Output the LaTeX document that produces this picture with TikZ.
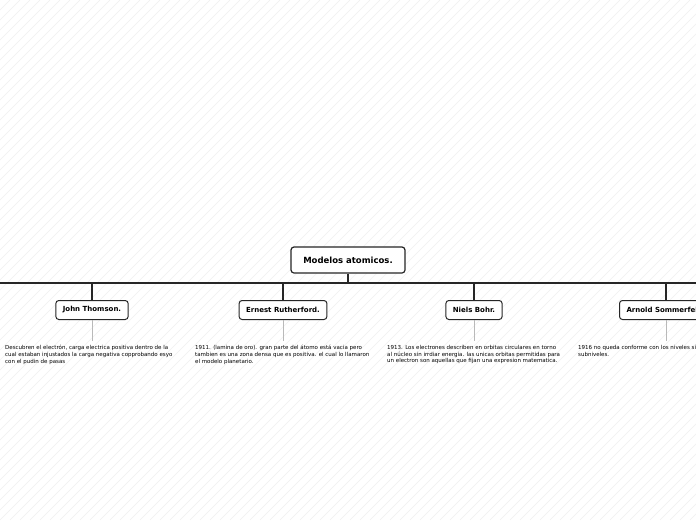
\documentclass[tikz,border=0pt]{standalone}
\usepackage{fontspec}
\setmainfont{DejaVu Sans}
\usetikzlibrary{positioning}

\tikzset{
  topic/.style={draw=black!85, line width=1.2pt, rounded corners=3pt, fill=white,
    font=\bfseries\fontsize{8.5}{10}\selectfont, minimum width=114pt, minimum height=26pt},
  subtopic/.style={draw=black!85, line width=1pt, rounded corners=3pt, fill=white,
    font=\bfseries\fontsize{7}{8}\selectfont, minimum height=19pt, inner xsep=7pt},
  note/.style={font=\fontsize{5.5}{6.8}\selectfont, align=left, anchor=north west, inner sep=0pt},
  branch/.style={line width=1.3pt, black!85},
  stem/.style={gray!55, line width=0.8pt, shorten >=4pt}
}

\begin{document}
\begin{tikzpicture}[x=1pt, y=-1pt]
  \useasboundingbox (0,0) rectangle (696,520);
  \clip (0,0) rectangle (696,520);
  \fill[white] (0,0) rectangle (696,520);
  \foreach \i in {0,10,...,1220}
    \draw[black!6, line width=0.4pt] (\i-520,520) -- (\i,0);

  \node[topic] (modelos) at (348,260) {Modelos atomicos.};
  \coordinate (barL) at (-5,283);
  \coordinate (barR) at (701,283);

  \node[subtopic] (thomson) at (92,310) {John Thomson.};
  \node[subtopic] (rutherford) at (283,310) {Ernest Rutherford.};
  \node[subtopic] (bohr) at (474,310) {Niels Bohr.};
  \node[subtopic, anchor=west] (sommerfeld) at (619,310) {Arnold Sommerfeld.};

  \node[note] (thomson txt) at (5,345)
    {Descubren el electrón, carga electrica positiva dentro de la\\
     cual estaban injustados la carga negativa copprobando esyo\\
     con el pudin de pasas};
  \node[note] (rutherford txt) at (195,345)
    {1911. (lamina de oro). gran parte del átomo está vacia pero\\
     tambien es una zona densa que es positiva. el cual lo llamaron\\
     el modelo planetario.};
  \node[note] (bohr txt) at (387,345)
    {1913. Los electrones describen en orbitas circulares en torno\\
     al núcleo sin irrdiar energia. las unicas orbitas permitidas para\\
     un electron son aquellas que fijan una expresion matematica.};
  \node[note] (sommerfeld txt) at (578,345)
    {1916 no queda conforme con los niveles si\\
     subniveles.};

  \draw[branch] (barL) -- (barR);
  \draw[branch] (modelos.south) -- (modelos.south |- barL);
  \foreach \n in {thomson,rutherford,bohr,sommerfeld} {
    \draw[branch] (\n.north |- barL) -- (\n.north);
    \draw[stem] (\n.south) -- (\n.south |- \n\space txt.north);
  }
\end{tikzpicture}
\end{document}
